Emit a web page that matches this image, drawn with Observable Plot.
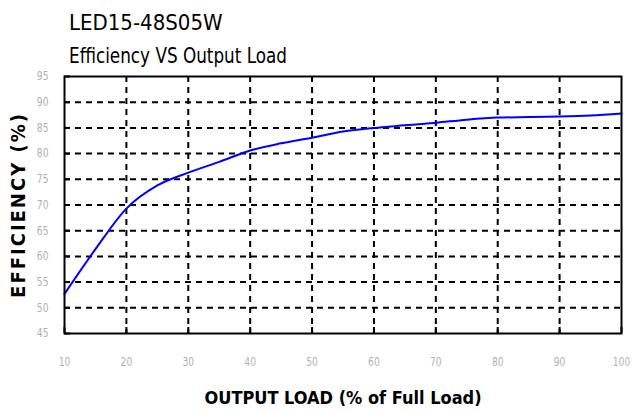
<!DOCTYPE html>
<html><head><meta charset="utf-8">
<script src="https://cdn.jsdelivr.net/npm/d3@7"></script>
<script src="https://cdn.jsdelivr.net/npm/@observablehq/plot@0.6"></script>
<style>
body{margin:0;background:#fff;width:634px;height:412px;overflow:hidden;font-family:"DejaVu Sans Condensed","DejaVu Sans",sans-serif;}
#head{position:relative;height:68px;}
.t{position:absolute;left:69px;font-size:22px;line-height:1;color:#000;white-space:nowrap;transform-origin:left center;}
#t1{top:12px}
#t2{top:45px;transform:scaleX(0.85)}
#chart svg{display:block}
</style></head><body>
<div id="head"><div class="t" id="t1">LED15-48S05W</div><div class="t" id="t2">Efficiency VS Output Load</div></div>
<div id="chart"></div>
<script>
const load = [10, 15, 20, 25, 30, 35, 40, 45, 50, 55, 60, 65, 70, 75, 80, 85, 90, 95, 100];
const efficiency = [52.7, 61.4, 69.3, 73.8, 76.3, 78.4, 80.6, 82.0, 83.1, 84.3, 85.0, 85.5, 86.0, 86.6, 87.0, 87.1, 87.2, 87.4, 87.8];
const xTicks = [10, 20, 30, 40, 50, 60, 70, 80, 90, 100];
const yTicks = [45, 50, 55, 60, 65, 70, 75, 80, 85, 90, 95];
const xGrid = [20, 30, 40, 50, 60, 70, 80, 90];
const yGrid = [50, 55, 60, 65, 70, 75, 80, 85, 90];
const xLabel = "OUTPUT LOAD (% of Full Load)";
const yLabel = "EFFICIENCY (%)";

const data = load.map((x, i) => ({load: x, eff: efficiency[i]}));

const chart = Plot.plot({
  width: 634,
  height: 344,
  marginTop: 8,
  marginBottom: 79,
  marginLeft: 64,
  marginRight: 13,
  style: {fontFamily: '"DejaVu Sans Condensed","DejaVu Sans",sans-serif', background: "#fff"},
  x: {domain: [10, 100], label: null},
  y: {domain: [45, 95], label: null},
  marks: [
    Plot.gridX(xGrid, {stroke: "#000", strokeOpacity: 1, strokeWidth: 2, strokeDasharray: "6,5"}),
    Plot.gridY(yGrid, {stroke: "#000", strokeOpacity: 1, strokeWidth: 2, strokeDasharray: "6,5"}),
    Plot.axisX(xTicks, {tickSize: 0, tickPadding: 24, fontSize: 12, fill: "#b0b0b0", label: null, className: "xtk"}),
    Plot.axisY(yTicks, {tickSize: 0, tickPadding: 16, fontSize: 12, fill: "#b0b0b0", label: null, className: "ytk"}),
    Plot.axisX(xTicks, {tickSize: -6, text: null, strokeWidth: 2, label: null}),
    Plot.axisY(yTicks, {tickSize: -6, text: null, strokeWidth: 2, label: null}),
    Plot.line(data, {x: "load", y: "eff", stroke: "#0000ff", strokeWidth: 2, curve: "monotone-x"}),
    Plot.frame({stroke: "#000", strokeWidth: 2}),
    Plot.text([xLabel], {frameAnchor: "bottom", textAnchor: "middle", dy: 70, text: d => d, fontSize: 18, fontWeight: "bold", fill: "#000"}),
    Plot.text([yLabel], {frameAnchor: "left", textAnchor: "middle", dx: -46, rotate: -90, text: d => d, fontSize: 20, fontWeight: "bold", fill: "#000", className: "ylab"})
  ]
});
chart.querySelectorAll("g.ylab text").forEach(t => {
  t.style.letterSpacing = "2px";
});
chart.querySelectorAll("g.xtk text, g.ytk text").forEach(t => {
  t.setAttribute("transform", (t.getAttribute("transform") || "") + " scale(0.85,1)");
});
document.getElementById("chart").appendChild(chart);
</script>
</body></html>
